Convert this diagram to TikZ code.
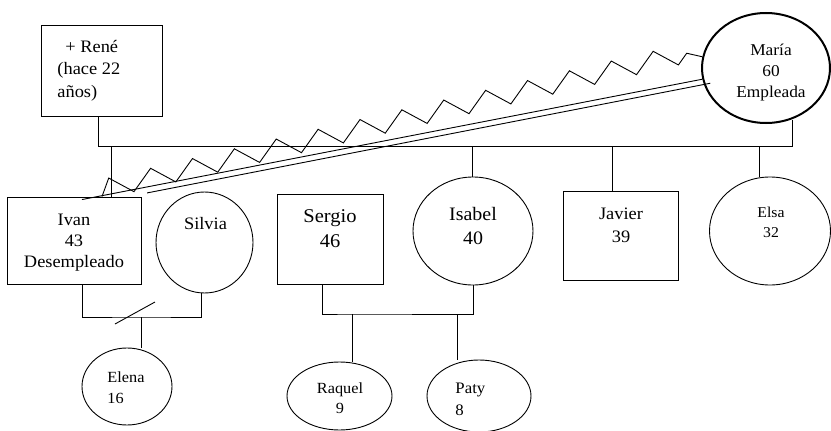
\documentclass[tikz,border=0pt]{standalone}
\usepackage{fontspec}
\setmainfont{Liberation Serif}[FakeStretch=1.05]
\usetikzlibrary{calc,decorations.pathmorphing,shapes.geometric}
\tikzset{
  man/.style={draw,rectangle,inner sep=0pt},
  woman/.style={draw,ellipse,inner sep=0pt},
  txt/.style 2 args={font=\fontsize{#1}{#2}\selectfont,align=center,inner sep=0pt,anchor=base},
  conflict/.style={decorate,decoration={zigzag,segment length=43pt,amplitude=9.5pt,raise=7pt}}
}

\begin{document}
\begin{tikzpicture}[x=1pt,y=-1pt,line width=0.9pt]
  \useasboundingbox (0,0) rectangle (831,431);

  \node[man,minimum width=121pt,minimum height=91pt] (rene) at (101.5,70.5) {};
  \node[txt={17.5}{22.5},align=left,anchor=base west] (renetxt) at (57,97)
    {\hspace*{8pt}+ René\\(hace 22\\años)};
  \node[woman,line width=2pt,minimum width=128pt,minimum height=110pt] (maria) at (766,68) {};
  \node[txt={16.5}{21}] (mariatxt) at (771,97) {María\\60\\Empleada};

  \node[man,minimum width=134pt,minimum height=87pt] (ivan) at (74,240.5) {};
  \node[txt={17.5}{21}] (ivantxt) at (74,267) {Ivan\\43\\Desempleado};
  \node[woman,minimum width=97pt,minimum height=101pt] (silvia) at (204.5,242.5) {};
  \node[txt={17.5}{21}] (silviatxt) at (205.5,229) {Silvia};
  \node[man,minimum width=106pt,minimum height=90pt] (sergio) at (330,239) {};
  \node[txt={19.5}{25}] (sergiotxt) at (330,247) {Sergio\\46};
  \node[woman,minimum width=120pt,minimum height=108pt] (isabel) at (473,231) {};
  \node[txt={19}{24}] (isabeltxt) at (473,244) {Isabel\\40};
  \node[man,minimum width=115pt,minimum height=89pt] (javier) at (620.5,235.5) {};
  \node[txt={17.5}{23}] (javiertxt) at (621,242) {Javier\\39};
  \node[woman,minimum width=121pt,minimum height=108pt] (elsa) at (770,231) {};
  \node[txt={15}{20}] (elsatxt) at (771,237) {Elsa\\32};

  \node[woman,minimum width=90pt,minimum height=77pt] (elena) at (127,386.5) {};
  \node[txt={15.5}{21},align=left,anchor=base west] (elenatxt) at (107,403) {Elena\\16};
  \node[woman,minimum width=105pt,minimum height=68pt] (raquel) at (339.5,396) {};
  \node[txt={15.5}{20}] (raqueltxt) at (340,413) {Raquel\\9};
  \node[woman,minimum width=104pt,minimum height=72pt] (paty) at (479,396) {};
  \node[txt={16}{22},align=left,anchor=base west] (patytxt) at (455,415) {Paty\\8};

  \coordinate (barL) at (98,146);
  \coordinate (barR) at (792,146);
  \draw (rene.south -| barL) -- (barL) -- (barR) -- (barR |- maria.-64);
  \coordinate (cIvan) at (111,146);
  \coordinate (cIsabel) at (472,146);
  \coordinate (cJavier) at (612,146);
  \coordinate (cElsa) at (759,146);
  \draw (cIvan) -- (cIvan |- ivan.north);
  \draw (cIsabel) -- (cIsabel |- isabel.north);
  \draw (cJavier) -- (cJavier |- javier.north);
  \draw (cElsa) -- (cElsa |- elsa.north);

  \coordinate (div) at (141,317);
  \draw ([xshift=8pt]ivan.south) |- (div) -| ([xshift=-3.5pt]silvia.south);
  \draw (div) -- (div |- elena.north);
  \draw ($(div)+(-26,7)$) -- ($(div)+(14,-15)$);

  \coordinate (fam) at (352,314);
  \coordinate (famP) at (457,314);
  \draw ([xshift=-8pt]sergio.south) |- (fam) -- (isabel.south |- fam) -- (isabel.south);
  \draw (fam) -- (fam |- raquel.north);
  \draw (famP) -- (famP |- paty.north);

  \coordinate (ivz) at ([xshift=28pt]ivan.north);
  \coordinate (ivd) at ([xshift=8pt,yshift=-3pt]ivan.north);
  \draw[conflict] (ivz) -- (maria.170);
  \draw (ivd) -- (maria.190);
  \draw ($(ivd)!0.105!(maria.190)+(0,6)$) -- ($(maria.190)+(8,4)$);
\end{tikzpicture}
\end{document}
